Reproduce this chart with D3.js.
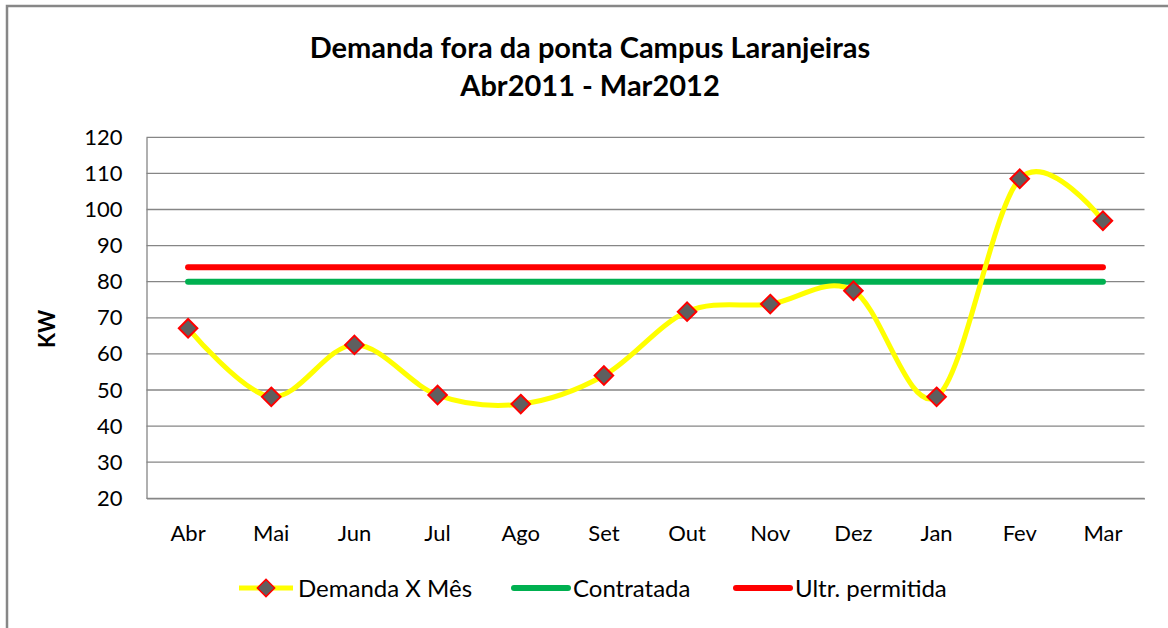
<!DOCTYPE html>
<html>
<head>
<meta charset="utf-8">
<script src="https://cdn.jsdelivr.net/npm/d3@7"></script>
<style>
  body { margin: 0; background: #fff; }
  svg text { font-family: Lato, "Open Sans", sans-serif; fill: #000; }
</style>
</head>
<body>
<svg width="1168" height="628"></svg>
<script>
var months = ["Abr", "Mai", "Jun", "Jul", "Ago", "Set", "Out", "Nov", "Dez", "Jan", "Fev", "Mar"];
var demanda = [67.1, 48.1, 62.5, 48.6, 46.1, 54.0, 71.7, 73.8, 77.5, 48.1, 108.5, 96.9];
var contratada = [80, 80, 80, 80, 80, 80, 80, 80, 80, 80, 80, 80];
var ultrPermitida = [84, 84, 84, 84, 84, 84, 84, 84, 84, 84, 84, 84];
var yTicks = [20, 30, 40, 50, 60, 70, 80, 90, 100, 110, 120];
var seriesNames = ["Demanda X Mês", "Contratada", "Ultr. permitida"];

var svg = d3.select("svg");

// outer chart frame (right/bottom edges fall outside the picture)
svg.append("rect")
    .attr("x", 7).attr("y", 6)
    .attr("width", 1200).attr("height", 700)
    .attr("fill", "none")
    .attr("stroke", "#878787")
    .attr("stroke-width", 2.5);

var plotLeft = 146.5, plotRight = 1144.5, plotTop = 137.3, plotBottom = 498.3;

var x = d3.scaleBand().domain(months).range([plotLeft, plotRight]);
var y = d3.scaleLinear().domain([20, 120]).range([plotBottom, plotTop]);
var cx = function (d, i) { return x(months[i]) + x.bandwidth() / 2; };

// title
svg.append("text")
    .attr("x", 590).attr("y", 58)
    .attr("text-anchor", "middle")
    .attr("font-size", "29px").attr("font-weight", "bold")
    .text("Demanda fora da ponta Campus Laranjeiras");
svg.append("text")
    .attr("x", 590).attr("y", 96)
    .attr("text-anchor", "middle")
    .attr("font-size", "29px").attr("font-weight", "bold")
    .text("Abr2011 - Mar2012");

//gridlines
svg.append("g")
    .selectAll("line")
    .data(yTicks)
    .enter().append("line")
    .attr("x1", plotLeft).attr("x2", plotRight)
    .attr("y1", function (d) { return y(d); })
    .attr("y2", function (d) { return y(d); })
    .attr("stroke", "#868686")
    .attr("stroke-width", 1.3);

//y axis
var yAxis = svg.append("g")
    .attr("transform", "translate(" + plotLeft + ",0)")
    .call(d3.axisLeft(y).tickValues(yTicks).tickSize(0).tickPadding(24));
yAxis.select(".domain").attr("stroke", "#868686").attr("stroke-width", 1.3);
yAxis.selectAll("text").attr("font-size", "22px").attr("font-family", "Lato, sans-serif");

//x axis
var xAxis = svg.append("g")
    .attr("transform", "translate(0," + plotBottom + ")")
    .call(d3.axisBottom(x).tickSize(0).tickPadding(27));
xAxis.select(".domain").attr("stroke", "#868686").attr("stroke-width", 1.3);
xAxis.selectAll("text").attr("font-size", "22px").attr("font-family", "Lato, sans-serif");

//y axis title
svg.append("text")
    .attr("transform", "translate(55,329) rotate(-90)")
    .attr("text-anchor", "middle")
    .attr("font-size", "22px").attr("font-weight", "bold")
    .text("KW");

var flatLine = d3.line()
    .x(cx)
    .y(function (d) { return y(d); });

svg.append("path")
    .datum(contratada)
    .attr("d", flatLine)
    .attr("fill", "none")
    .attr("stroke", "#00B050")
    .attr("stroke-width", 6)
    .attr("stroke-linecap", "round");

svg.append("path")
    .datum(ultrPermitida)
    .attr("d", flatLine)
    .attr("fill", "none")
    .attr("stroke", "#FF0000")
    .attr("stroke-width", 6)
    .attr("stroke-linecap", "round");

var smoothLine = d3.line()
    .x(cx)
    .y(function (d) { return y(d); })
    .curve(d3.curveCardinal.tension(0));

svg.append("path")
    .datum(demanda)
    .attr("d", smoothLine)
    .attr("fill", "none")
    .attr("stroke", "#FFFF00")
    .attr("stroke-width", 5);

var diamond = d3.symbol().type(d3.symbolDiamond2).size(220);

svg.append("g")
    .selectAll("path")
    .data(demanda)
    .enter().append("path")
    .attr("d", diamond)
    .attr("transform", function (d, i) { return "translate(" + cx(d, i) + "," + y(d) + ")"; })
    .attr("fill", "#5F5F5F")
    .attr("stroke", "#FF0000")
    .attr("stroke-width", 2);

//legend
var legendY = 588;
var legend = [
    { x: 239, color: "#FFFF00", w: 5, marker: true },
    { x: 514, color: "#00B050", w: 6, marker: false },
    { x: 736, color: "#FF0000", w: 6, marker: false }
];
legend.forEach(function (l, i) {
    svg.append("line")
        .attr("x1", l.x).attr("x2", l.x + 54)
        .attr("y1", legendY).attr("y2", legendY)
        .attr("stroke", l.color)
        .attr("stroke-width", l.w)
        .attr("stroke-linecap", l.marker ? "butt" : "round");
    if (l.marker) {
        svg.append("path")
            .attr("d", d3.symbol().type(d3.symbolDiamond2).size(190))
            .attr("transform", "translate(" + (l.x + 27) + "," + legendY + ")")
            .attr("fill", "#5F5F5F")
            .attr("stroke", "#FF0000")
            .attr("stroke-width", 1.5);
    }
    svg.append("text")
        .attr("x", l.x + 59).attr("y", legendY + 9)
        .attr("font-size", "24px")
        .text(seriesNames[i]);
});
</script>
</body>
</html>
